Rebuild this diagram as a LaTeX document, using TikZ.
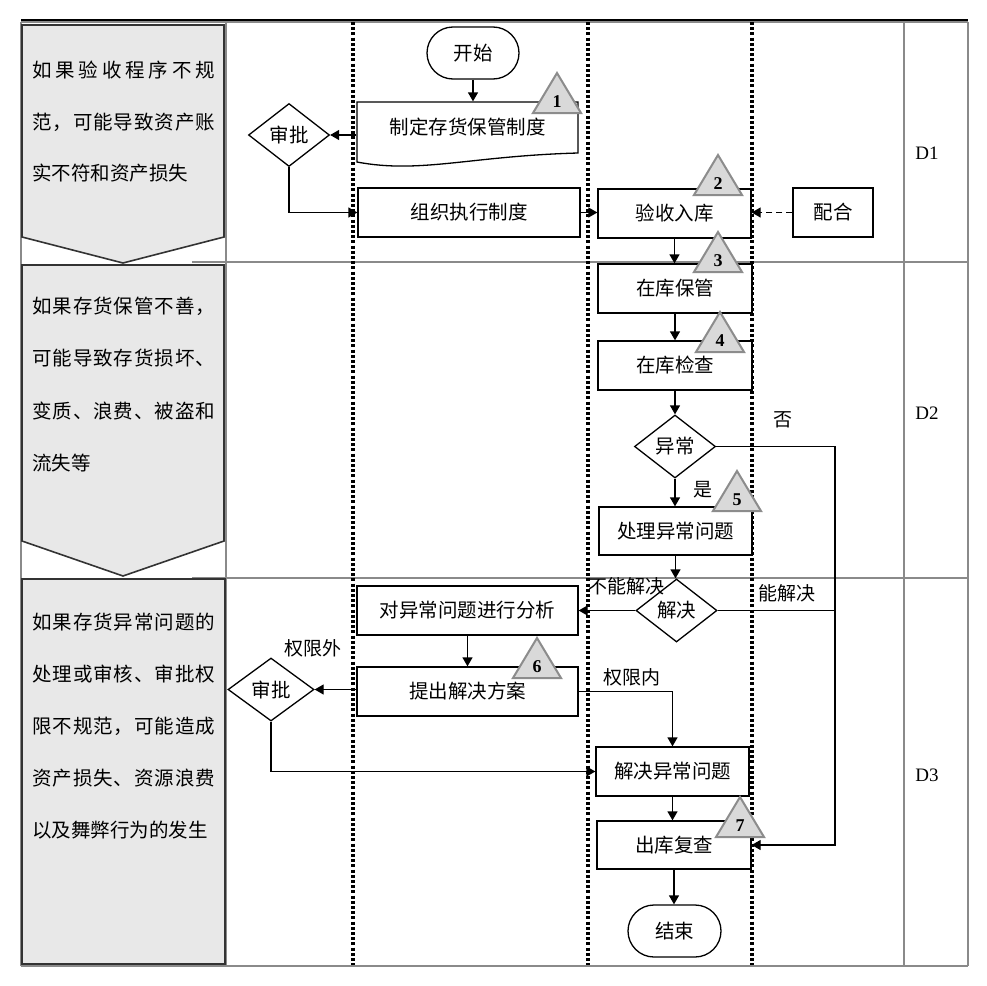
\documentclass[tikz,border=0pt]{standalone}
\usepackage{fontspec}
\setmainfont{Liberation Serif}
\newfontfamily\cjk{Noto Sans CJK SC}
\usetikzlibrary{arrows.meta,shapes.geometric}
\definecolor{boxgray}{HTML}{E8E8E8}
\definecolor{trigray}{HTML}{D9D9D9}
\definecolor{triedge}{HTML}{8C8C8C}
\definecolor{gridgray}{HTML}{8A8A8A}
\newcommand\sprdA[1]{\ifx#1\relax\else#1\hfil\expandafter\sprdA\fi}
\newcommand\J[1]{\makebox[183pt][s]{\sprdA#1\relax\unskip}}
\newcommand\numtri[4]{%
  \filldraw[tri] (#2-24,#3+40) -- (#2,#3) -- (#2+24,#3+40) -- cycle;
  \node[trinum] (#1) at (#2,#3+29) {#4};}
\tikzset{
 flow/.style={draw=black, line width=1.3pt, fill=white, inner sep=0pt, font=\cjk\fontsize{19.5}{22}\selectfont},
 box/.style={flow, rectangle},
 dia/.style={flow, diamond, minimum width=81pt, minimum height=63pt},
 term/.style={flow, rectangle, rounded corners=26pt, minimum width=92pt, minimum height=52pt},
 arr/.style={line width=1.3pt, -{Triangle[length=9pt,width=10pt]}},
 ln/.style={line width=1.3pt},
 lbl/.style={font=\cjk\fontsize{19}{22}\selectfont, inner sep=0pt},
 lt/.style={font=\cjk\fontsize{19.5}{22}\selectfont, inner sep=0pt, anchor=west},
 tri/.style={fill=trigray, draw=triedge, line width=2pt, line join=miter},
 trinum/.style={font=\bfseries\fontsize{18}{20}\selectfont, inner sep=0pt},
 dlbl/.style={font=\fontsize{19}{22}\selectfont, inner sep=0pt},
 dots/.style={line width=3.2pt, dash pattern=on 3pt off 2.2pt},
 grid/.style={draw=gridgray, line width=1.5pt},
 lbox/.style={fill=boxgray, draw=black!80, line width=1.6pt},
}
\begin{document}
\begin{tikzpicture}[x=1pt,y=-1pt]
\useasboundingbox (0,0) rectangle (987,985);
% frame and grid
\draw[grid] (21,22) -- (968,22);
\draw[line width=1.2pt] (21,20) -- (968,20);
\draw[grid] (21,22) -- (21,966);
\draw[grid] (226,22) -- (226,966);
\draw[grid] (904,22) -- (904,966);
\draw[grid] (968,22) -- (968,966);
\draw[grid] (192,262) -- (968,262);
\draw[grid] (192,578) -- (968,578);
\draw[grid] (21,966) -- (968,966);
% swimlane dotted separators
\draw[dots] (353,22) -- (353,965);
\draw[dots] (588,22) -- (588,965);
\draw[dots] (752,22) -- (752,965);
% left risk boxes
\filldraw[lbox] (22,25) -- (224,25) -- (224,237) -- (123,263) -- (22,237) -- cycle;
\filldraw[lbox] (22,265) -- (224,265) -- (224,541) -- (123,576) -- (22,541) -- cycle;
\filldraw[lbox] (22,579) rectangle (225,964);
\node[lt] (a1) at (32,70) {\J{如果验收程序不规}};
\node[lt] (a2) at (32,122) {\J{范，可能导致资产账}};
\node[lt] (a3) at (32,173) {实不符和资产损失};
\node[lt] (b1) at (32,306) {\J{如果存货保管不善，}};
\node[lt] (b2) at (32,358) {\J{可能导致存货损坏、}};
\node[lt] (b3) at (32,411) {\J{变质、浪费、被盗和}};
\node[lt] (b4) at (32,463) {流失等};
\node[lt] (c1) at (32,622) {\J{如果存货异常问题的}};
\node[lt] (c2) at (32,674) {\J{处理或审核、审批权}};
\node[lt] (c3) at (32,726) {\J{限不规范，可能造成}};
\node[lt] (c4) at (32,778) {\J{资产损失、资源浪费}};
\node[lt] (c5) at (32,830) {以及舞弊行为的发生};
% D labels
\node[dlbl] (D1) at (927,153) {D1};
\node[dlbl] (D2) at (927,413) {D2};
\node[dlbl] (D3) at (927,775) {D3};
% flow nodes
\node[term] (start) at (473,53) {开始};
\filldraw[flow] (357,102) -- (578,102) -- (578,153) .. controls (470,156) and (420,174) .. (357,162) -- cycle;
\node[flow, draw=none, fill=none, minimum width=221pt, minimum height=51pt] (n1) at (467.5,127.5) {制定存货保管制度};
\node[dia] (d1) at (289,135) {审批};
\node[box, minimum width=222pt, minimum height=49pt] (n2) at (469,212.5) {组织执行制度};
\node[box, minimum width=153pt, minimum height=49pt] (n3) at (674.5,213.5) {验收入库};
\node[box, minimum width=80pt, minimum height=49pt] (ph) at (833,212.5) {配合};
\node[box, minimum width=154pt, minimum height=49pt] (n4) at (675,288.5) {在库保管};
\node[box, minimum width=154pt, minimum height=49pt] (n5) at (675,365.5) {在库检查};
\node[dia] (d2) at (675,446.5) {异常};
\node[box, minimum width=153pt, minimum height=48pt] (n6) at (675.5,531) {处理异常问题};
\node[dia] (d3) at (676.5,610.5) {解决};
\node[box, minimum width=221pt, minimum height=49pt] (n7) at (467.5,610.5) {对异常问题进行分析};
\node[box, minimum width=221pt, minimum height=49pt] (n8) at (467.5,691.5) {提出解决方案};
\node[dia, minimum width=86pt] (d4) at (271,689.5) {审批};
\node[box, minimum width=153pt, minimum height=49pt] (n9) at (672.5,771.5) {解决异常问题};
\node[box, minimum width=154pt, minimum height=48pt] (n10) at (674,845) {出库复查};
\node[term, minimum width=93pt] (end) at (674.5,931) {结束};
\coordinate (rx) at (835,0);
% connectors
\draw[arr] (start.south) -- (start.south |- n1.north);
\draw[arr] (d1.east -| n1.west) -- (d1.east);
\draw[arr] (d1.south) |- (n2.west);
\draw[arr] (n2.east) -- (n2.east -| n3.west);
\draw[arr, dashed, dash pattern=on 6pt off 4pt] (ph.west) -- (ph.west -| n3.east);
\draw[arr] (n3.south) -- (n3.south |- n4.north);
\draw[arr] (n4.south) -- (n5.north);
\draw[arr] (n5.south) -- (d2.north);
\draw[arr] (d2.south) -- (d2.south |- n6.north);
\draw[arr] (n6.south) -- (n6.south |- d3.north);
\draw[arr] (d2.east) -| (rx |- n10.east) -- (n10.east);
\draw[ln] (d3.east) -- (d3.east -| rx);
\draw[arr] (d3.west) -- (n7.east);
\draw[arr] (n7.south) -- (n8.north);
\draw[arr] (d4.east -| n8.west) -- (d4.east);
\draw[arr] (d4.south) |- (n9.west);
\draw[arr] (n8.east) -| (n9.north);
\draw[arr] (n9.south) -- (n9.south |- n10.north);
\draw[arr] (n10.south) -- (n10.south |- end.north);
% step triangles
\numtri{t1}{557}{73}{1}
\numtri{t2}{718}{155}{2}
\numtri{t3}{718}{232}{3}
\numtri{t4}{720}{312}{4}
\numtri{t5}{737}{471}{5}
\numtri{t6}{537}{638}{6}
\numtri{t7}{740}{797}{7}
% branch labels
\node[lbl] (no) at (783,420) {否};
\node[lbl] (yes) at (703,490) {是};
\node[lbl] (cant) at (626,586) {不能解决};
\node[lbl] (can) at (787,593) {能解决};
\node[lbl] (out) at (313,648) {权限外};
\node[lbl] (in) at (632,677) {权限内};
\end{tikzpicture}
\end{document}
